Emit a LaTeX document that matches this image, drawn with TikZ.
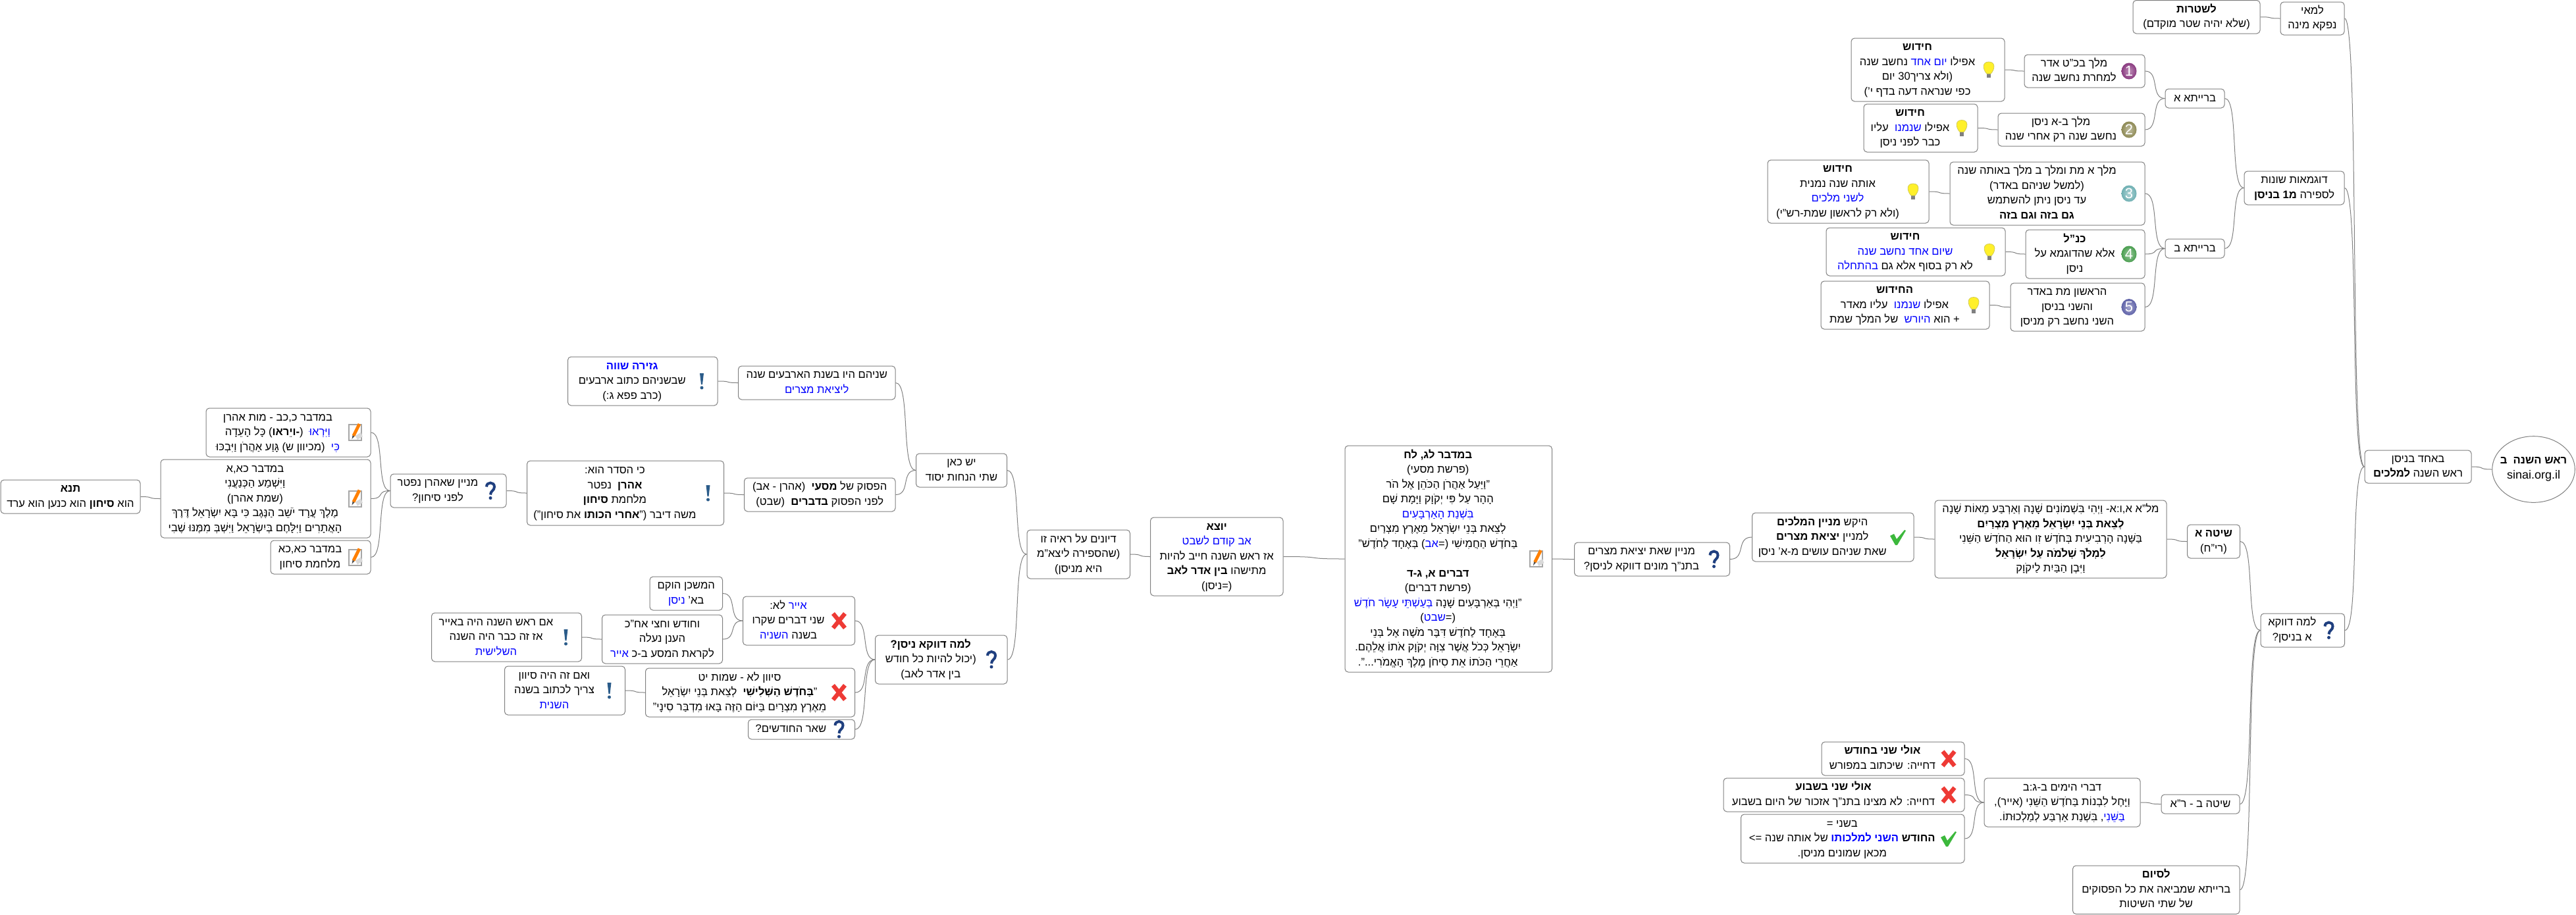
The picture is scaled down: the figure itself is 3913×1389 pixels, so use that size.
\documentclass[tikz,border=0pt]{standalone}
\usepackage{fontspec}
\usepackage{xcolor}
\usetikzlibrary{shapes.geometric,calc}
\setmainfont[Script=Hebrew]{Liberation Sans}
\newfontfamily\latinf{Liberation Sans}
\TeXXeTstate=1
\definecolor{hblue}{HTML}{0000FF}
\definecolor{edgec}{HTML}{808080}
\definecolor{qc}{HTML}{1F3F7F}
\definecolor{exc}{HTML}{2B5C8A}
\definecolor{chk}{HTML}{3CB83C}
\definecolor{crs}{HTML}{EE3A35}
\definecolor{bulb}{HTML}{FFF02A}
\definecolor{ball1}{HTML}{8A3A80}
\definecolor{ball2}{HTML}{8E8A55}
\definecolor{ball3}{HTML}{6FB0B3}
\definecolor{ball4}{HTML}{4A9E50}
\definecolor{ball5}{HTML}{5F62A8}
\newcommand\mmfont{\fontsize{8.3}{11.25}\selectfont}
\newcommand\heb[1]{\beginR #1\endR}
\newcommand\bd[1]{\textbf{#1}}
\newcommand\hb[1]{\beginL\textcolor{hblue}{\beginR #1\endR}\endL}
\tikzset{
  mmbox/.style={draw=edgec,line width=.5pt,fill=white,rounded corners=2.5pt,inner sep=0pt,align=center,font=\mmfont},
  conn/.style={draw=edgec,line width=.5pt},
}
\newcommand\mbx[7]{%
  \pgfmathsetmacro\bw{(#4-#2)*.5}\pgfmathsetmacro\bh{(#5-#3)*.5}%
  \pgfmathsetmacro\cx{(#2+#4)/2}\pgfmathsetmacro\cy{(#3+#5)/2}%
  \def\tmpic{#6}%
  \ifx\tmpic\empty\def\sh{0}\else\def\sh{16}\fi
  \node[mmbox,minimum width=\bw pt,minimum height=\bh pt] (#1) at (\cx,\cy)
    {\hbox{\begin{tabular}{@{}c@{}}#7\end{tabular}\kern\sh pt}};
  \ifx\tmpic\empty\else\begin{scope}[shift={(#4-24,\cy)}]#6\end{scope}\fi
}
\newcommand\conn[2]{%
  \draw[conn] (#1.east) .. controls ($(#1.east)!.75!(#2.west |- #1.east)$) and ($(#2.west)!.75!(#1.east |- #2.west)$) .. (#2.west);}
% icons
\newcommand\icball[3]{\shade[inner color=#1!55!white,outer color=#1] (0,0) ellipse (11.5 and 12.5);
  \node[text=white,inner sep=0pt,font=\fontsize{11}{11}\selectfont] (#3) at (0,0) {#2};}
\newcommand\icbulb{\fill[gray] (-3,6) rectangle (3,12);
  \draw[fill=bulb,draw=yellow!60!gray,line width=.4pt] (0,-12) .. controls (-11,-12) and (-9,0) .. (-3,6) -- (3,6) .. controls (9,0) and (11,-12) .. (0,-12) -- cycle;}
\newcommand\icq{\draw[qc,line width=2pt] (-6,-6) .. controls (-6,-14) and (6,-14) .. (6,-6) .. controls (6,0) and (0,0) .. (0,6);
  \fill[qc] (0,11) circle (2.5);}
\newcommand\icex{\fill[exc] (-3,-12) -- (3,-12) -- (1,5) -- (-1,5) -- cycle;
  \fill[exc] (0,10) circle (2.5);}
\newcommand\icpen{\draw[draw=gray!70,fill=white,line width=1pt] (-9.5,-12) rectangle (9.5,12);
  \fill[gray!30] (1,5) -- (9,0) -- (12,6) -- (4,11) -- cycle;
  \draw[orange,line width=2.4pt] (7,-13) -- (-2,5);
  \fill[black!70] (-3.4,4.4) -- (-.6,5.8) -- (-4.5,10) -- cycle;}
\newcommand\icx{\draw[crs,line width=3.2pt] (-9,-11) -- (9,11) (9,-11) -- (-9,11);}
\newcommand\icc{\fill[chk] (-12,-2) -- (-6,-5) -- (-2,3) -- (10,-11) -- (12,-10) -- (-1,12) -- (-4,12) -- cycle;}
\begin{document}
\begin{tikzpicture}[x=.5pt,y=-.5pt]
\useasboundingbox (0,0) rectangle (3913,1389);
% root
\node[draw=edgec,line width=.5pt,ellipse,fill=white,inner xsep=-6pt,inner ysep=0pt,minimum width=62.8pt,minimum height=50.3pt,align=center,font=\mmfont] (root) at (3848.5,713)
 {\heb{\bd{ראש השנה\ \ ב}}\\{\latinf\fontsize{9}{11.25}\selectfont sinai.org.il}};
\mbx{ba}{3592}{684}{3754}{734}{}{\heb{באחד בניסן}\\\heb{ראש השנה \bd{למלכים}}}
\mbx{lamai}{3464}{3}{3561}{53}{}{\heb{למאי}\\\heb{נפקא מינה}}
\mbx{shtarot}{3240}{0.5}{3433}{51}{}{\heb{\bd{לשטרות}}\\\heb{(שלא יהיה שטר מוקדם)}}
\mbx{dugma}{3409}{260}{3561}{311}{}{\heb{דוגמאות שונות}\\\heb{לספירה \bd{מ1 בניסן}}}
\mbx{bar1}{3289}{135}{3379}{164}{}{\heb{ברייתא א}}
\mbx{bar2}{3289}{363}{3379}{392}{}{\heb{ברייתא ב}}
\mbx{m1}{3075}{83}{3258}{133}{\icball{ball1}{1}{num1}}{\heb{מלך בכ"ט אדר}\\\heb{למחרת נחשב שנה}}
\mbx{m2}{3035}{172}{3258}{222}{\icball{ball2}{2}{num2}}{\heb{מלך ב-א ניסן}\\\heb{נחשב שנה רק אחרי שנה}}
\mbx{m3}{2962}{246}{3258}{342}{\icball{ball3}{3}{num3}}{\heb{מלך א מת ומלך ב מלך באותה שנה}\\\heb{(למשל שניהם באדר)}\\\heb{עד ניסן ניתן להשתמש}\\\heb{\bd{גם בזה וגם בזה}}}
\mbx{m4}{3077}{349}{3258}{423}{\icball{ball4}{4}{num4}}{\heb{\bd{כנ"ל}}\\\heb{אלא שהדוגמא על}\\\heb{ניסן}}
\mbx{m5}{3054}{430}{3258}{503}{\icball{ball5}{5}{num5}}{\heb{הראשון מת באדר}\\\heb{והשני בניסן}\\\heb{השני נחשב רק מניסן}}
\mbx{h1}{2812}{58}{3045}{154}{\icbulb}{\heb{\bd{חידוש}}\\\heb{אפילו \hb{יום אחד} נחשב שנה}\\\heb{(ולא צריך30 יום}\\\heb{כפי שנראה דעה בדף י')}}
\mbx{h2}{2831}{158}{3004}{231}{\icbulb}{\heb{\bd{חידוש}}\\\heb{אפילו \hb{שנמנו}\ \ עליו}\\\heb{כבר לפני ניסן}}
\mbx{h3}{2685}{243}{2930}{339}{\icbulb}{\heb{\bd{חידוש}}\\\heb{אותה שנה נמנית}\\\heb{\hb{לשני מלכים}}\\\heb{(ולא רק לראשון שמת-רש"י)}}
\mbx{h4}{2774}{346}{3046}{419}{\icbulb}{\heb{\bd{חידוש}}\\\heb{\hb{שיום אחד נחשב שנה}}\\\heb{לא רק בסוף אלא גם \hb{בהתחלה}}}
\mbx{h5}{2766}{427}{3022}{500}{\icbulb}{\heb{\bd{החידוש}}\\\heb{אפילו \hb{שנמנו}\ \ עליו מאדר}\\\heb{+ הוא \hb{היורש}\ \ של המלך שמת}}
\mbx{lama}{3434}{932}{3561.5}{983}{\icq}{\heb{למה דווקא}\\\heb{א בניסן?}}
\mbx{shita1}{3322.5}{797}{3402.5}{848}{}{\heb{\bd{שיטה א}}\\\heb{(רי"ח)}}
\mbx{shita2}{3283}{1207}{3402}{1236}{}{\heb{שיטה ב - ר"א}}
\mbx{siyum}{3148.5}{1315}{3402}{1388.5}{}{\heb{\bd{לסיום}}\\\heb{ברייתא שמביאה את כל הפסוקים}\\\heb{של שתי השיטות}}
\mbx{melachim}{2939}{760}{3291}{878}{}{\heb{מל"א א,ו:א- וַיְהִי בִּשְׁמוֹנִים שָׁנָה וְאַרְבַּע מֵאוֹת שָׁנָה}\\\heb{\bd{לְצֵאת בְּנֵי יִשְׂרָאֵל מֵאֶרֶץ מִצְרַיִם}}\\\heb{בַּשָּׁנָה הָרְבִיעִית בְּחֹדֶשׁ זִו הוּא הַחֹדֶשׁ הַשֵּׁנִי}\\\heb{\bd{לִמְלֹךְ שְׁלֹמֹה עַל יִשְׂרָאֵל}}\\\heb{וַיִּבֶן הַבַּיִת לַיקֹוָק}}
\mbx{hekesh}{2661.5}{779}{2907}{853}{\icc}{\heb{היקש \bd{מניין המלכים}}\\\heb{למניין \bd{יציאת מצרים}}\\\heb{שאת שניהם עושים מ-א' ניסן}}
\mbx{minyan}{2391.5}{824}{2627.5}{875}{\icq}{\heb{מניין שאת יציאת מצרים}\\\heb{בתנ"ך מונים דווקא לניסן?}}
\mbx{bamidbar}{2043}{677}{2357.5}{1021}{\icpen}{\heb{\bd{במדבר לג, לח}}\\\heb{(פרשת מסעי)}\\\heb{"וַיַּעַל אַהֲרֹן הַכֹּהֵן אֶל הֹר}\\\heb{הָהָר עַל פִּי יְקֹוָק וַיָּמָת שָׁם}\\\heb{\hb{בִּשְׁנַת הָאַרְבָּעִים}}\\\heb{לְצֵאת בְּנֵי יִשְׂרָאֵל מֵאֶרֶץ מִצְרַיִם}\\\heb{בַּחֹדֶשׁ הַחֲמִישִׁי (=\hb{אב}) בְּאֶחָד לַחֹדֶשׁ"}\\\heb{}\\\heb{\bd{דברים א, ג-ד}}\\\heb{(פרשת דברים)}\\\heb{"וַיְהִי בְּאַרְבָּעִים שָׁנָה \hb{בְּעַשְׁתֵּי עָשָׂר חֹדֶשׁ}}\\\heb{(=\hb{שבט})}\\\heb{בְּאֶחָד לַחֹדֶשׁ דִּבֶּר מֹשֶׁה אֶל בְּנֵי}\\\heb{יִשְׂרָאֵל כְּכֹל אֲשֶׁר צִוָּה יְקֹוָק אֹתוֹ אֲלֵהֶם.}\\\heb{אַחֲרֵי הַכֹּתוֹ אֵת סִיחֹן מֶלֶךְ הָאֱמֹרִי...".}}
\mbx{yotze}{1747.5}{786}{1949}{905}{}{\heb{\bd{יוצא}}\\\heb{\hb{אב קודם לשבט}}\\\heb{אז ראש השנה חייב להיות}\\\heb{מתישהו \bd{בין אדר לאב}}\\\heb{(=ניסן)}}
\mbx{dion}{1560}{805}{1716.5}{879}{}{\heb{דיונים על ראיה זו}\\\heb{(שהספירה ליצא"מ}\\\heb{היא מניסן)}}
\mbx{yesh}{1391.5}{689}{1529.5}{740}{}{\heb{יש כאן}\\\heb{שתי הנחות יסוד}}
\mbx{shneihem}{1121.5}{556}{1360}{607}{}{\heb{שניהם היו בשנת הארבעים שנה}\\\heb{\hb{ליציאת מצרים}}}
\mbx{gzera}{862.5}{542}{1090}{616}{\icex}{\heb{\bd{\hb{גזירה שווה}}}\\\heb{שבשניהם כתוב ארבעים}\\\heb{(כרב פפא ג:)}}
\mbx{pasuk}{1130.5}{726}{1360}{777}{}{\heb{הפסוק של \bd{מסעי}\ \ (אהרן - אב)}\\\heb{לפני הפסוק \bd{בדברים}\ \ (שבט)}}
\mbx{seder}{800.5}{700}{1099.5}{798}{\icex}{\heb{כי הסדר הוא:}\\\heb{\bd{אהרן}\ \ נפטר}\\\heb{מלחמת \bd{סיחון}}\\\heb{משה דיבר ("\bd{אחרי הכותו} את סיחון")}}
\mbx{meaharon}{593}{720}{769}{771}{\icq}{\heb{מניין שאהרן נפטר}\\\heb{לפני סיחון?}}
\mbx{bm1}{313}{620}{563}{694}{\icpen}{\heb{במדבר כ,כב - מות אהרן}\\\heb{\hb{וַיִּרְאוּ}\ \ (\bd{-ויֵראו}) כָּל הָעֵדָה}\\\heb{\hb{כִּי}\ \ (מכיוון ש) גָּוַע אַהֲרֹן וַיִּבְכּוּ}}
\mbx{bm2}{244}{698}{563}{817}{\icpen}{\heb{במדבר כא,א}\\\heb{וַיִּשְׁמַע הַכְּנַעֲנִי}\\\heb{(שמת אהרן)}\\\heb{מֶלֶךְ עֲרָד יֹשֵׁב הַנֶּגֶב כִּי בָּא יִשְׂרָאֵל דֶּרֶךְ}\\\heb{הָאֲתָרִים וַיִּלָּחֶם בְּיִשְׂרָאֵל וַיִּשְׁבְּ מִמֶּנּוּ שֶׁבִי}}
\mbx{bm3}{411}{821}{563}{872}{\icpen}{\heb{במדבר כא,כא}\\\heb{מלחמת סיחון}}
\mbx{tana}{1}{729}{213}{780}{}{\heb{\bd{תנא}}\\\heb{הוא \bd{סיחון} הוא כנען הוא ערד}}
\mbx{lamanisan}{1329.5}{965}{1530}{1039}{\icq}{\heb{\bd{למה דווקא ניסן?}}\\\heb{(יכול להיות כל חודש}\\\heb{בין אדר לאב)}}
\mbx{iyar}{1128.5}{906}{1298.5}{980}{\icx}{\heb{\hb{אייר} לא:}\\\heb{שני דברים שקרו}\\\heb{בשנה \hb{השניה}}}
\mbx{mishkan}{987}{876}{1097.5}{927}{}{\heb{המשכן הוקם}\\\heb{בא' \hb{ניסן}}}
\mbx{chodesh}{914.5}{934}{1097.5}{1008}{}{\heb{וחודש וחצי אח"כ}\\\heb{הענן נעלה}\\\heb{לקראת המסע ב-כ \hb{אייר}}}
\mbx{imrosh}{655.5}{931}{883.5}{1005}{\icex}{\heb{אם ראש השנה היה באייר}\\\heb{אז זה כבר היה השנה}\\\heb{\hb{השלישית}}}
\mbx{sivan}{980.5}{1015}{1298.5}{1089}{\icx}{\heb{סיוון לא - שמות יט}\\\heb{"\bd{בַּחֹדֶשׁ הַשְּׁלִישִׁי}\ \ לְצֵאת בְּנֵי יִשְׂרָאֵל}\\\heb{מֵאֶרֶץ מִצְרָיִם בַּיּוֹם הַזֶּה בָּאוּ מִדְבַּר סִינָי"}}
\mbx{veim}{766.5}{1012}{949.5}{1086}{\icex}{\heb{ואם זה היה סיוון}\\\heb{צריך לכתוב בשנה}\\\heb{\hb{השנית}}}
\mbx{shear}{1136.5}{1093}{1298.5}{1123}{\icq}{\heb{שאר החודשים?}}
\mbx{divrei}{3014}{1182}{3251}{1256}{}{\heb{דברי הימים ב-ג:ב}\\\heb{וַיָּחֶל לִבְנוֹת בַּחֹדֶשׁ הַשֵּׁנִי (אייר),}\\\heb{\hb{בַּשֵּׁנִי}, בִּשְׁנַת אַרְבַּע לְמַלְכוּתוֹ.}}
\mbx{ulai1}{2767}{1127}{2984}{1178}{\icx}{\heb{\bd{אולי שני בחודש}}\\\heb{דחייה: שיכתוב במפורש}}
\mbx{ulai2}{2618}{1182}{2984}{1233}{\icx}{\heb{\bd{אולי שני בשבוע}}\\\heb{דחייה: לא מצינו בתנ"ך אזכור של היום בשבוע}}
\mbx{bsheni}{2644.5}{1237}{2984}{1311}{\icc}{\heb{בשני =}\\\heb{\bd{החודש \hb{השני למלכותו}} של אותה שנה =>}\\\heb{מכאן שמונים מניסן.}}
% connectors
\conn{ba}{root}\conn{lamai}{ba}\conn{dugma}{ba}\conn{lama}{ba}
\conn{shtarot}{lamai}\conn{bar1}{dugma}\conn{bar2}{dugma}
\conn{m1}{bar1}\conn{m2}{bar1}\conn{m3}{bar2}\conn{m4}{bar2}\conn{m5}{bar2}
\conn{h1}{m1}\conn{h2}{m2}\conn{h3}{m3}\conn{h4}{m4}\conn{h5}{m5}
\conn{shita1}{lama}\conn{shita2}{lama}\conn{siyum}{lama}
\conn{melachim}{shita1}\conn{hekesh}{melachim}\conn{minyan}{hekesh}\conn{bamidbar}{minyan}
\conn{yotze}{bamidbar}\conn{dion}{yotze}\conn{yesh}{dion}\conn{lamanisan}{dion}
\conn{shneihem}{yesh}\conn{pasuk}{yesh}\conn{gzera}{shneihem}\conn{seder}{pasuk}
\conn{meaharon}{seder}\conn{bm1}{meaharon}\conn{bm2}{meaharon}\conn{bm3}{meaharon}\conn{tana}{bm2}
\conn{iyar}{lamanisan}\conn{sivan}{lamanisan}\conn{shear}{lamanisan}
\conn{mishkan}{iyar}\conn{chodesh}{iyar}\conn{imrosh}{chodesh}\conn{veim}{sivan}
\conn{divrei}{shita2}\conn{ulai1}{divrei}\conn{ulai2}{divrei}\conn{bsheni}{divrei}
\end{tikzpicture}
\end{document}
